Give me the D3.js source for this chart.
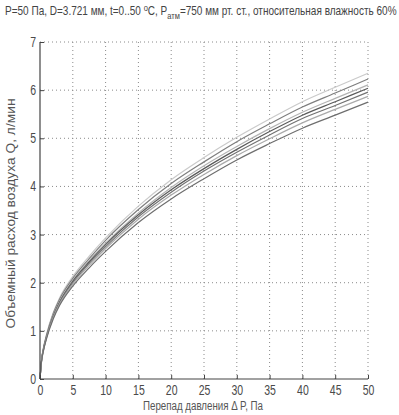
<!DOCTYPE html>
<html>
<head>
<meta charset="utf-8">
<script src="https://cdn.jsdelivr.net/npm/d3@7"></script>
<style>
  body { margin: 0; background: #fff; }
  svg { display: block; }
</style>
</head>
<body>
<script>
// pressure drop, Pa
const dp = [0, 0.25, 0.5, 1, 2, 3, 5, 7.5, 10, 15, 20, 25, 30, 35, 40, 45, 50]

// flow, l/min, one row per curve (top to bottom at the right end)
const curveA = [0, 0.42, 0.63, 0.93, 1.37, 1.69, 2.13, 2.55, 2.93, 3.59, 4.14, 4.60, 5.02, 5.40, 5.76, 6.06, 6.35]
const curveB = [0, 0.41, 0.62, 0.91, 1.35, 1.66, 2.09, 2.50, 2.88, 3.52, 4.06, 4.51, 4.93, 5.30, 5.65, 5.94, 6.23]
const curveC = [0, 0.41, 0.61, 0.89, 1.32, 1.62, 2.05, 2.46, 2.82, 3.45, 3.98, 4.43, 4.83, 5.20, 5.54, 5.83, 6.11]
const curveD = [0, 0.40, 0.60, 0.88, 1.30, 1.60, 2.03, 2.43, 2.79, 3.41, 3.93, 4.37, 4.77, 5.14, 5.48, 5.76, 6.04]
const curveE = [0, 0.40, 0.59, 0.87, 1.29, 1.58, 2.00, 2.40, 2.75, 3.37, 3.88, 4.32, 4.71, 5.07, 5.41, 5.68, 5.96]
const curveF = [0, 0.39, 0.58, 0.86, 1.27, 1.56, 1.97, 2.36, 2.71, 3.32, 3.82, 4.25, 4.64, 4.99, 5.32, 5.60, 5.87]
const curveG = [0, 0.38, 0.57, 0.84, 1.24, 1.53, 1.93, 2.31, 2.65, 3.25, 3.74, 4.16, 4.55, 4.89, 5.21, 5.48, 5.75]

const curves = [curveA, curveB, curveC, curveD, curveE, curveF, curveG]
const curveColors = ['#cacaca', '#7e7e7e', '#b4b4b4', '#5a5a5a', '#727272', '#aaaaaa', '#6e6e6e']

const xTicks = [0, 5, 10, 15, 20, 25, 30, 35, 40, 45, 50]
const yTicks = [0, 1, 2, 3, 4, 5, 6, 7]

const W = 399, H = 415
const margin = {left: 40, right: 31, top: 42, bottom: 36}
const font = '"Liberation Sans", Arial, sans-serif'

const svg = d3.select('body').append('svg')
    .attr('width', W)
    .attr('height', H)
    .style('font-family', font)

const x = d3.scaleLinear().domain([0, 50]).range([margin.left, W - margin.right])
const y = d3.scaleLinear().domain([0, 7]).range([H - margin.bottom, margin.top])

// dotted grid
const grid = svg.append('g')
    .attr('stroke', '#8a8a8a')
    .attr('stroke-width', 1)
    .attr('stroke-dasharray', '1,3')
grid.selectAll('line.v')
    .data(xTicks.filter(d => d > 0))
    .join('line')
    .attr('class', 'v')
    .attr('x1', d => x(d)).attr('x2', d => x(d))
    .attr('y1', y(0)).attr('y2', y(7))
grid.selectAll('line.h')
    .data(yTicks.filter(d => d > 0))
    .join('line')
    .attr('class', 'h')
    .attr('x1', x(0)).attr('x2', x(50))
    .attr('y1', d => y(d)).attr('y2', d => y(d))

// curves
const line = d3.line()
    .x((d, i) => x(dp[i]))
    .y(d => y(d))
    .curve(d3.curveMonotoneX)

svg.append('g')
    .attr('fill', 'none')
    .selectAll('path')
    .data(curves)
    .join('path')
    .attr('stroke', (d, i) => curveColors[i])
    .attr('stroke-width', 1.2)
    .attr('d', line)

// axes
const xAxis = svg.append('g')
    .attr('transform', `translate(0,${y(0)})`)
    .call(d3.axisBottom(x).tickValues(xTicks).tickFormat(d3.format('d')).tickSize(-4).tickPadding(6))
const yAxis = svg.append('g')
    .attr('transform', `translate(${x(0)},0)`)
    .call(d3.axisLeft(y).tickValues(yTicks).tickFormat(d3.format('d')).tickSize(-4).tickPadding(4))

for (const ax of [xAxis, yAxis]) {
    ax.select('.domain').attr('stroke', '#444').attr('stroke-width', 1.2)
    ax.selectAll('.tick line').attr('stroke', '#444')
    ax.selectAll('.tick text')
        .attr('fill', '#4a4a4a')
        .style('font-family', font)
        .style('font-size', '14px')
}
// narrow digits: squeeze each tick label around its anchor
xAxis.selectAll('.tick text').attr('transform', 'scale(0.75,1)')
yAxis.selectAll('.tick text').each(function () {
    const t = d3.select(this)
    const xx = +t.attr('x')
    t.attr('transform', `translate(${xx * 0.25},0) scale(0.75,1)`)
})
xAxis.select('.domain').attr('d', `M${x(0)},0H${x(50)}`)
yAxis.select('.domain').attr('d', `M0,${y(0)}V${y(7)}`)

// axis titles, squeezed to the narrow face of the source
svg.append('text')
    .attr('x', x(25) - 1)
    .attr('y', H - 5)
    .attr('text-anchor', 'middle')
    .attr('fill', '#555')
    .attr('textLength', 120)
    .attr('lengthAdjust', 'spacingAndGlyphs')
    .style('font-size', '12px')
    .text('Перепад давления Δ P, Па')

svg.append('text')
    .attr('transform', `translate(15,${(y(0) + y(7)) / 2 + 3}) rotate(-90)`)
    .attr('text-anchor', 'middle')
    .attr('fill', '#555')
    .attr('textLength', 230)
    .attr('lengthAdjust', 'spacingAndGlyphs')
    .style('font-size', '13px')
    .text('Объемный расход воздуха Q, л/мин')

// title
const titleG = svg.append('g')
const title = titleG.append('text')
    .attr('fill', '#444')
    .style('font-size', '12px')
title.append('tspan').text('P=50 Па, D=3.721 мм, t=0..50 ')
title.append('tspan').attr('dy', -4).style('font-size', '9px').text('o')
title.append('tspan').attr('dy', 4).text('C, P')
title.append('tspan').attr('dy', 4).style('font-size', '9px').text('атм')
title.append('tspan').attr('dy', -4).text('=750 мм рт. ст., относительная влажность 60%')
const tw = titleG.node().getBBox().width
titleG.attr('transform', `translate(5,15) scale(${392 / tw},1)`)
</script>
</body>
</html>
